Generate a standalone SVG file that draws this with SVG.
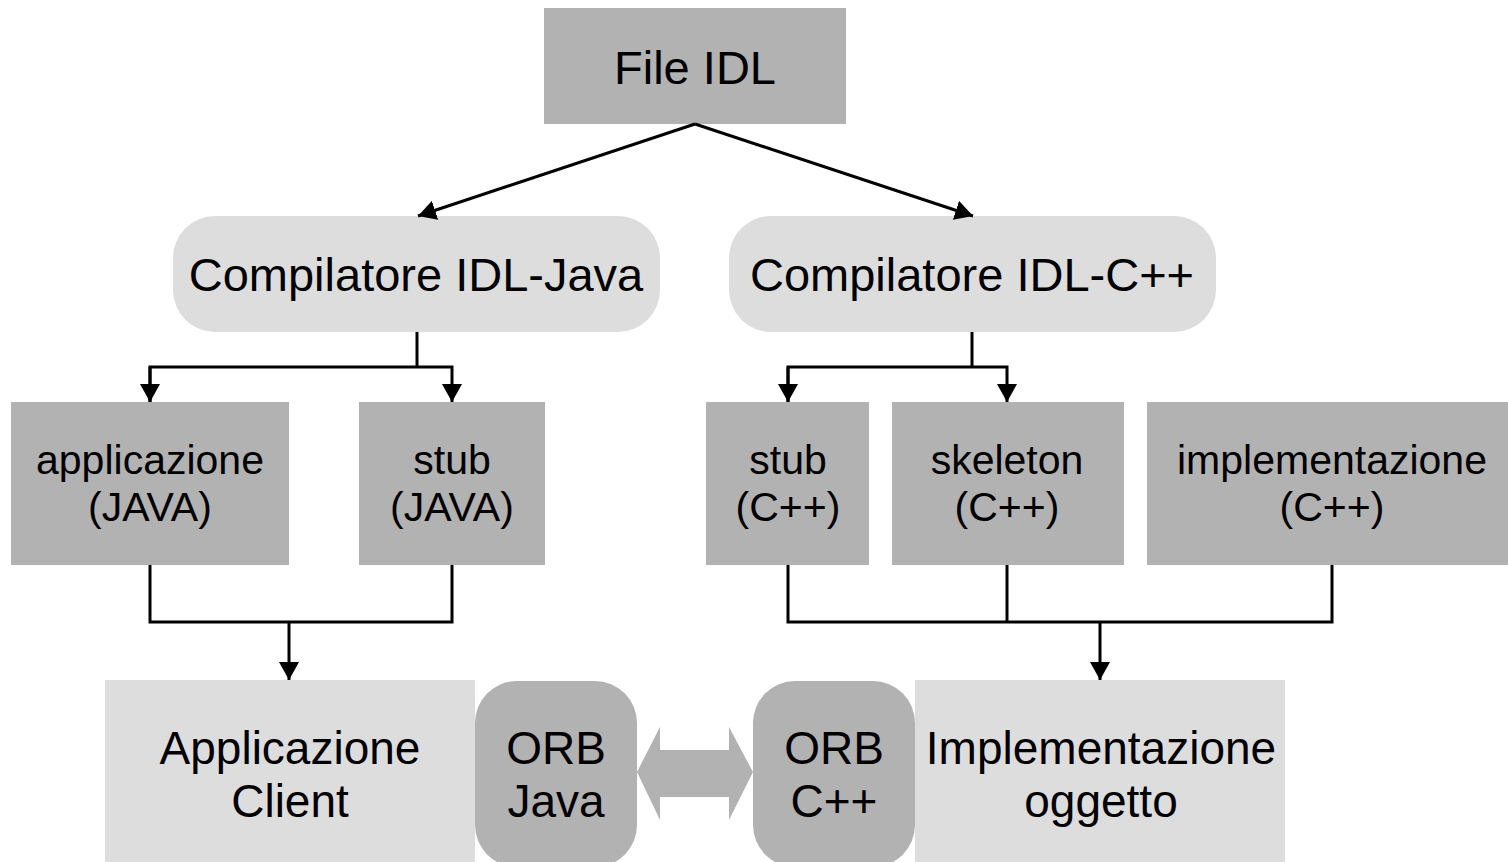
<svg xmlns="http://www.w3.org/2000/svg" width="1508" height="862" viewBox="0 0 1508 862">
  <style>
    .dark { fill: #b2b2b2; }
    .light { fill: #dddddd; }
    text { font-family: "Liberation Sans", Arial, sans-serif; fill: #000; text-anchor: middle; }
    .t47 { font-size: 47px; }
    .t41 { font-size: 41px; }
    .t46 { font-size: 46px; }
    .wire { fill: none; stroke: #000; stroke-width: 3; }
  </style>
  <defs>
    <marker id="head" markerUnits="userSpaceOnUse" markerWidth="22" markerHeight="20" refX="18" refY="10" orient="auto">
      <path d="M0,0 L18,10 L0,20 Z" fill="#000"/>
    </marker>
  </defs>
  <rect width="1508" height="862" fill="#ffffff"/>

  <!-- source file -->
  <g id="file-idl">
    <rect class="dark" x="544" y="8" width="302" height="116"/>
    <text class="t47" x="695" y="84">File IDL</text>
  </g>

  <!-- compilers -->
  <g id="compilatore-java">
    <rect class="light" x="173" y="216" width="487" height="116" rx="42" ry="42"/>
    <text class="t47" x="416" y="291">Compilatore IDL-Java</text>
  </g>
  <g id="compilatore-cpp">
    <rect class="light" x="729" y="216" width="487" height="116" rx="42" ry="42"/>
    <text class="t47" x="972" y="291">Compilatore IDL-C++</text>
  </g>

  <!-- generated sources -->
  <g id="applicazione-java">
    <rect class="dark" x="11" y="402" width="278" height="163"/>
    <text class="t41" x="150" y="474">applicazione</text>
    <text class="t41" x="150" y="521">(JAVA)</text>
  </g>
  <g id="stub-java">
    <rect class="dark" x="359" y="402" width="186" height="163"/>
    <text class="t41" x="452" y="474">stub</text>
    <text class="t41" x="452" y="521">(JAVA)</text>
  </g>
  <g id="stub-cpp">
    <rect class="dark" x="706" y="402" width="163" height="163"/>
    <text class="t41" x="788" y="474">stub</text>
    <text class="t41" x="788" y="521">(C++)</text>
  </g>
  <g id="skeleton-cpp">
    <rect class="dark" x="892" y="402" width="232" height="163"/>
    <text class="t41" x="1007" y="474">skeleton</text>
    <text class="t41" x="1007" y="521">(C++)</text>
  </g>
  <g id="implementazione-cpp">
    <rect class="dark" x="1147" y="402" width="361" height="163"/>
    <text class="t41" x="1332" y="474">implementazione</text>
    <text class="t41" x="1332" y="521">(C++)</text>
  </g>

  <!-- runtime -->
  <g id="applicazione-client">
    <rect class="light" x="105" y="680" width="370" height="182"/>
    <text class="t46" x="290" y="764">Applicazione</text>
    <text class="t46" x="290" y="817">Client</text>
  </g>
  <g id="implementazione-oggetto">
    <rect class="light" x="915" y="680" width="370" height="182"/>
    <text class="t46" x="1101" y="764">Implementazione</text>
    <text class="t46" x="1101" y="817">oggetto</text>
  </g>
  <g id="orb-java">
    <rect class="dark" x="475" y="681" width="162" height="186" rx="42" ry="42"/>
    <text class="t46" x="556" y="764">ORB</text>
    <text class="t46" x="556" y="817">Java</text>
  </g>
  <g id="orb-cpp">
    <rect class="dark" x="753" y="681" width="162" height="186" rx="42" ry="42"/>
    <text class="t46" x="834" y="764">ORB</text>
    <text class="t46" x="834" y="817">C++</text>
  </g>

  <!-- connectors -->
  <g id="connectors">
    <line class="wire" x1="695" y1="124" x2="418" y2="216" marker-end="url(#head)"/>
    <line class="wire" x1="695" y1="124" x2="973" y2="216" marker-end="url(#head)"/>

    <path class="wire" d="M417,332 V367"/>
    <path class="wire" d="M150,402 V367 H452 V402" marker-end="url(#head)"/>
    <path class="wire" d="M150,367 V402" marker-end="url(#head)"/>

    <path class="wire" d="M972,332 V367"/>
    <path class="wire" d="M788,402 V367 H1007 V402" marker-end="url(#head)"/>
    <path class="wire" d="M788,367 V402" marker-end="url(#head)"/>

    <path class="wire" d="M150,565 V622 H452 V565"/>
    <path class="wire" d="M289,622 V680" marker-end="url(#head)"/>

    <path class="wire" d="M788,565 V622 H1332 V565"/>
    <path class="wire" d="M1007,565 V622"/>
    <path class="wire" d="M1100,622 V680" marker-end="url(#head)"/>

    <!-- ORB to ORB link -->
    <path class="dark" d="M637,772 L660,727 L660,750 L729,750 L729,727 L753,772 L729,820 L729,797 L660,797 L660,820 Z"/>
  </g>
</svg>
